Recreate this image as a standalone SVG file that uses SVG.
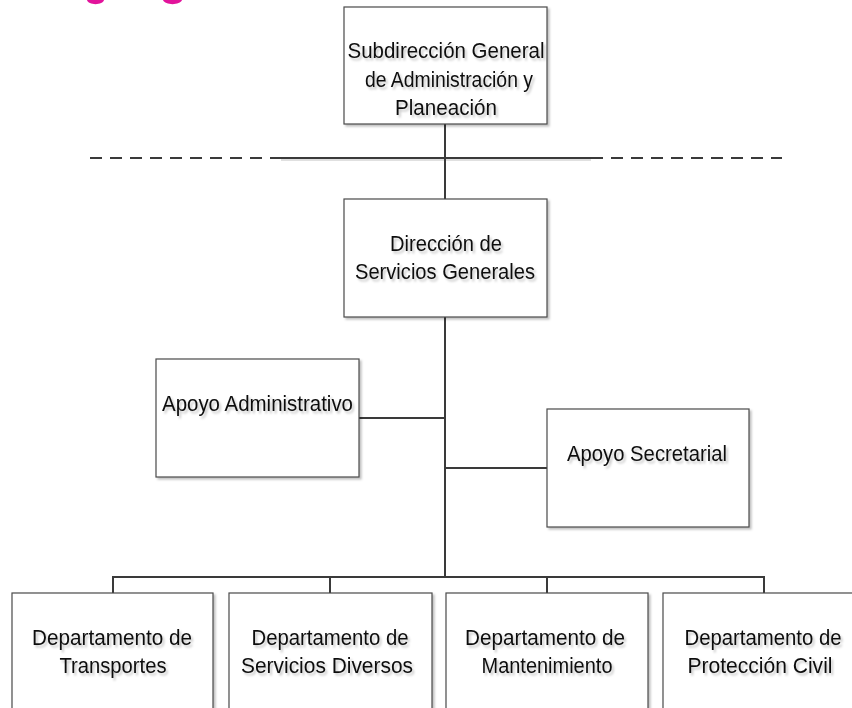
<svg xmlns="http://www.w3.org/2000/svg" width="852" height="708" viewBox="0 0 852 708">
  <defs>
    <filter id="boxShadow" x="-5%" y="-5%" width="115%" height="115%">
      <feDropShadow dx="2" dy="2" stdDeviation="0.8" flood-color="#000" flood-opacity="0.25"/>
    </filter>
    <filter id="textShadow" x="-5%" y="-20%" width="115%" height="160%">
      <feDropShadow dx="2" dy="2.5" stdDeviation="0.9" flood-color="#000" flood-opacity="0.22"/>
    </filter>
  </defs>
  <style>
    .box { fill: #ffffff; stroke: #4a4a4a; stroke-width: 1.2; filter: url(#boxShadow); }
    .lbl { font-family: "Liberation Sans", Arial, sans-serif; font-size: 22.5px; fill: #111; text-anchor: middle; filter: url(#textShadow); }
    .wire { fill: none; stroke: #3a3a3a; stroke-width: 2; }
    .dash { fill: none; stroke: #3a3a3a; stroke-width: 2; stroke-dasharray: 12 8; }
    .mark { fill: #e2139b; }
  </style>

  <rect width="852" height="708" fill="#ffffff"/>

  <!-- clipped title lettering at the top edge -->
  <path class="mark" d="M87,0 C88,5.5 103,5.5 104,0 Z"/>
  <path class="mark" d="M163,0 C165,5.5 180,5.5 182,0 Z"/>

  <g id="connectors">
    <!-- staff boundary line -->
    <line class="dash" x1="90" y1="158" x2="281" y2="158"/>
    <line class="dash" x1="591" y1="158" x2="782" y2="158"/>
    <line x1="281" y1="160" x2="591" y2="160" stroke="#000" stroke-opacity="0.12" stroke-width="2"/>
    <line class="wire" x1="281" y1="158" x2="591" y2="158"/>
    <!-- main trunk -->
    <line class="wire" x1="445" y1="124" x2="445" y2="199"/>
    <line class="wire" x1="445" y1="317" x2="445" y2="578"/>
    <!-- staff branches -->
    <line class="wire" x1="359" y1="418" x2="445" y2="418"/>
    <line class="wire" x1="445" y1="468" x2="547" y2="468"/>
    <!-- department bus -->
    <polyline class="wire" points="113,593 113,577 764,577 764,593"/>
    <line class="wire" x1="330" y1="577" x2="330" y2="593"/>
    <line class="wire" x1="547" y1="577" x2="547" y2="593"/>
  </g>

  <g id="subdireccion">
    <rect class="box" x="344" y="7" width="203" height="117"/>
    <text class="lbl" x="446" y="58" textLength="197" lengthAdjust="spacingAndGlyphs">Subdirección General</text>
    <text class="lbl" x="449" y="87" textLength="168" lengthAdjust="spacingAndGlyphs">de Administración y</text>
    <text class="lbl" x="446" y="115" textLength="102" lengthAdjust="spacingAndGlyphs">Planeación</text>
  </g>

  <g id="direccion">
    <rect class="box" x="344" y="199" width="203" height="118"/>
    <text class="lbl" x="446" y="251" textLength="112" lengthAdjust="spacingAndGlyphs">Dirección de</text>
    <text class="lbl" x="445" y="279" textLength="180" lengthAdjust="spacingAndGlyphs">Servicios Generales</text>
  </g>

  <g id="apoyo-administrativo">
    <rect class="box" x="156" y="359" width="203" height="118"/>
    <text class="lbl" x="257.5" y="411" textLength="191" lengthAdjust="spacingAndGlyphs">Apoyo Administrativo</text>
  </g>

  <g id="apoyo-secretarial">
    <rect class="box" x="547" y="409" width="202" height="118"/>
    <text class="lbl" x="647" y="461" textLength="160" lengthAdjust="spacingAndGlyphs">Apoyo Secretarial</text>
  </g>

  <g id="depto-transportes">
    <rect class="box" x="12" y="593" width="201" height="130"/>
    <text class="lbl" x="112" y="645" textLength="160" lengthAdjust="spacingAndGlyphs">Departamento de</text>
    <text class="lbl" x="113" y="673" textLength="107" lengthAdjust="spacingAndGlyphs">Transportes</text>
  </g>

  <g id="depto-servicios-diversos">
    <rect class="box" x="229" y="593" width="203" height="130"/>
    <text class="lbl" x="330" y="645" textLength="157" lengthAdjust="spacingAndGlyphs">Departamento de</text>
    <text class="lbl" x="327" y="673" textLength="172" lengthAdjust="spacingAndGlyphs">Servicios Diversos</text>
  </g>

  <g id="depto-mantenimiento">
    <rect class="box" x="446" y="593" width="202" height="130"/>
    <text class="lbl" x="545" y="645" textLength="160" lengthAdjust="spacingAndGlyphs">Departamento de</text>
    <text class="lbl" x="547" y="673" textLength="131" lengthAdjust="spacingAndGlyphs">Mantenimiento</text>
  </g>

  <g id="depto-proteccion-civil">
    <rect class="box" x="663" y="593" width="202" height="130"/>
    <text class="lbl" x="763" y="645" textLength="157" lengthAdjust="spacingAndGlyphs">Departamento de</text>
    <text class="lbl" x="760" y="673" textLength="145" lengthAdjust="spacingAndGlyphs">Protección Civil</text>
  </g>
</svg>
